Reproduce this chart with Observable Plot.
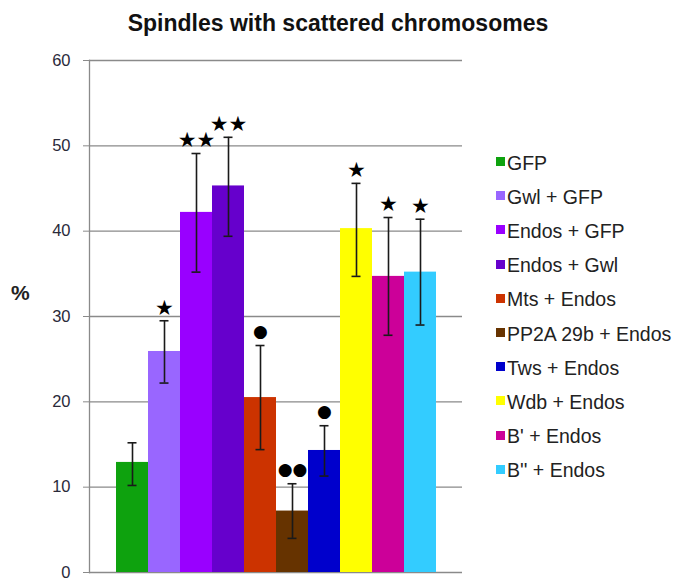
<!DOCTYPE html>
<html>
<head>
<meta charset="utf-8">
<script src="https://cdn.jsdelivr.net/npm/d3@7"></script>
<script src="https://cdn.jsdelivr.net/npm/@observablehq/plot@0.6"></script>
<style>
  html, body { margin: 0; padding: 0; background: #fff; }
  #wrap { position: relative; width: 676px; height: 580px; font-family: "Liberation Sans", Arial, sans-serif; }
  #title { position: absolute; left: 0; width: 676px; top: 10px; text-align: center; font-weight: bold; font-size: 23px; color: #111; }
  #ylab { position: absolute; left: 11px; top: 281px; font-weight: bold; font-size: 21px; color: #222; }
  #legend { position: absolute; left: 496px; top: 146px; }
  .row { display: flex; align-items: center; height: 34.2px; font-size: 19.5px; color: #222; white-space: nowrap; }
  .sw { width: 9px; height: 9px; margin-right: 2px; margin-top: -3px; flex: none; }
  #chart { position: absolute; left: 0; top: 0; }
</style>
</head>
<body>
<div id="wrap">
  <div id="chart"></div>
  <div id="title">Spindles with scattered chromosomes</div>
  <div id="ylab">%</div>
  <div id="legend"></div>
</div>
<script>
const categories = ["GFP", "Gwl + GFP", "Endos + GFP", "Endos + Gwl", "Mts + Endos", "PP2A 29b + Endos", "Tws + Endos", "Wdb + Endos", "B' + Endos", "B'' + Endos"];
const values = [12.9, 25.9, 42.2, 45.3, 20.5, 7.2, 14.3, 40.3, 34.7, 35.2];
const errLow = [10.2, 22.2, 35.2, 39.4, 14.4, 4.0, 11.3, 34.7, 27.8, 29.0];
const errHigh = [15.2, 29.5, 49.1, 51.0, 26.6, 10.4, 17.2, 45.6, 41.6, 41.4];
const marks = ["", "★", "★★", "★★", "●", "●●", "●", "★", "★", "★"];
const colors = ["#0ea20e", "#9966ff", "#9900ff", "#6600cc", "#cc3300", "#663300", "#0000cc", "#ffff00", "#cc0099", "#33ccff"];
const yTicks = [0, 10, 20, 30, 40, 50, 60];

const data = categories.map((name, i) => ({name, value: values[i], lo: errLow[i], hi: errHigh[i], mark: marks[i]}));

const chart = Plot.plot({
  width: 676,
  height: 580,
  marginLeft: 89,
  marginRight: 214,
  marginTop: 60,
  marginBottom: 8,
  style: {fontFamily: "'Liberation Sans', Arial, sans-serif", background: "transparent"},
  x: {domain: categories, paddingInner: 0, paddingOuter: 0.79, axis: null},
  y: {domain: [0, 60]},
  color: {domain: categories, range: colors},
  marks: [
    Plot.ruleY(yTicks, {stroke: "#8a8a8a", strokeWidth: 1.3}),
    Plot.frame({anchor: "left", stroke: "#8a8a8a", strokeWidth: 1.3}),
    Plot.axisY({ticks: yTicks, tickSize: 6, tickPadding: 13, stroke: "#8a8a8a", fill: "#2a2a3a", fontSize: 16.5, label: null}),
    Plot.barY(data, {x: "name", y: "value", fill: "name"}),
    Plot.ruleX(data, {x: "name", y1: "lo", y2: "hi", stroke: "#1a1a1a", strokeWidth: 1.6}),
    Plot.tickY(data, {x: "name", y: "hi", stroke: "#1a1a1a", strokeWidth: 1.6, insetLeft: 11.5, insetRight: 11.5}),
    Plot.tickY(data, {x: "name", y: "lo", stroke: "#1a1a1a", strokeWidth: 1.6, insetLeft: 11.5, insetRight: 11.5}),
    Plot.text(data.filter(d => d.mark.includes("★")), {x: "name", y: "hi", text: "mark", dy: -13, fontSize: 21, fill: "#000", fontFamily: "DejaVu Sans", lineAnchor: "middle", textAnchor: "middle"}),
    Plot.text(data.filter(d => d.mark.includes("●")), {x: "name", y: "hi", text: "mark", dy: -14, fontSize: 17, fill: "#000", fontFamily: "DejaVu Sans", lineAnchor: "middle", textAnchor: "middle"})
  ]
});
document.getElementById("chart").append(chart);

const legend = document.getElementById("legend");
categories.forEach((c, i) => {
  const row = document.createElement("div");
  row.className = "row";
  const sw = document.createElement("span");
  sw.className = "sw";
  sw.style.background = colors[i];
  const t = document.createElement("span");
  t.textContent = c;
  row.append(sw, t);
  legend.append(row);
});
</script>
</body>
</html>
